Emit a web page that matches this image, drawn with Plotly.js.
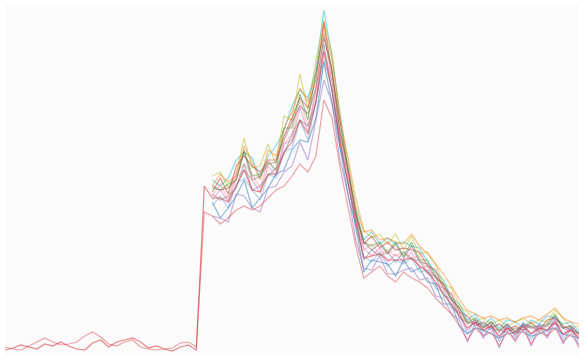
<!DOCTYPE html>
<html>
<head>
<meta charset="utf-8">
<script src="https://cdn.plot.ly/plotly-3.0.1.min.js"></script>
<style>html,body{margin:0;padding:0;background:#fff;}#chart{width:584px;height:360px;}</style>
</head>
<body>
<div id="chart"></div>
<script>
// time steps (shared x axis)
const steps = [0,1,2,3,4,5,6,7,8,9,10,11,12,13,14,15,16,17,18,19,20,21,22,23,24,25,26,27,28,29,30,31,32,33,34,35,36,37,38,39,40,41,42,43,44,45,46,47,48,49,50,51,52,53,54,55,56,57,58,59,60,61,62,63,64,65,66,67,68,69,70,71,72];
const mainStart = 26;

// two long series recorded from the first step
const seriesR1 = [9,7,6,10,14,18,14,11,12,14,20,24,19,12,10,14,16,9,7,6,7,8,13,14,9,
  144,
  140,132,138,146,150,146,150,158,166,170,
  180,192,184,200,256,238,190,150,110,78,
  84,90,80,74,84,78,74,68,58,50,
  42,30,16,28,20,24,10,24,16,26,
  12,24,20,28,14,22,10];
const seriesR2 = [6,8,11,9,7,12,10,14,10,7,6,13,16,9,14,16,18,14,8,10,7,5,9,11,6,
  170,
  158,158,154,170,186,166,164,182,182,204,
  214,236,222,254,304,266,214,174,134,98,
  100,102,96,96,96,98,90,84,74,62,
  52,40,28,34,26,30,20,28,22,30,
  22,28,26,34,22,26,18];

// series recorded from step 26
const seriesCyan = [176,170,178,196,204,198,178,200,210,226,
  250,266,258,286,346,300,244,186,146,116,
  124,112,118,112,114,110,108,94,84,76,
  58,52,36,42,30,38,28,36,34,28,
  36,32,40,38,32,34,24];
const seriesOlive = [180,184,168,182,218,188,190,212,192,240,
  236,282,246,296,336,304,234,200,158,126,
  118,122,112,122,106,120,102,104,92,72,
  68,50,44,34,38,32,36,30,34,38,
  32,36,34,46,38,28,30];
const seriesOrange = [170,182,174,180,210,194,176,206,200,228,
  244,268,254,282,330,298,242,196,150,124,
  126,116,118,114,112,122,110,102,92,82,
  70,56,46,42,38,40,36,38,34,38,
  40,36,42,48,38,34,32];
const seriesRed = [164,178,162,190,200,190,184,196,196,220,
  238,258,248,276,334,282,236,184,144,112,
  120,108,114,106,108,106,104,90,86,68,
  62,44,40,30,34,28,32,26,30,26,
  34,26,36,38,30,26,22];
const seriesGreen = [168,166,172,176,206,180,182,194,186,228,
  228,262,236,284,322,288,226,190,142,114,
  110,114,104,114,100,114,96,96,80,72,
  56,48,34,38,28,34,26,32,24,32,
  30,30,32,42,28,30,22];
const seriesSalmon = [160,172,156,184,192,182,168,196,184,212,
  222,256,230,266,324,276,222,180,140,106,
  112,102,106,100,104,98,100,84,82,66,
  58,42,34,32,30,28,26,28,26,30,
  28,28,30,36,28,28,20];
const seriesBrown = [170,166,168,176,204,176,180,192,194,216,
  234,250,242,268,318,286,224,188,140,114,
  106,112,102,112,98,110,94,92,78,72,
  56,48,32,36,28,34,24,32,24,32,
  28,30,30,40,28,30,22];
const seriesPink = [156,166,154,178,186,176,164,190,180,212,
  216,248,224,266,306,276,216,182,134,108,
  100,108,94,102,94,104,88,90,72,68,
  50,44,26,36,24,32,18,32,20,32,
  22,32,24,38,20,30,16];
const seriesGray = [162,156,160,168,192,166,170,180,188,202,
  222,236,230,254,312,266,222,172,140,96,
  106,100,104,94,104,96,96,82,80,60,
  58,38,34,32,32,26,26,24,28,26,
  30,24,32,32,28,24,24];
const seriesLightBlue = [150,160,148,172,178,166,156,182,178,204,
  208,236,216,254,296,268,208,176,128,100,
  94,104,90,96,92,98,84,86,68,64,
  48,42,22,38,20,32,14,32,18,34,
  16,32,20,38,16,30,12];
const seriesBlue = [154,138,148,160,176,148,158,168,182,186,
  206,216,214,238,294,254,210,162,130,84,
  96,94,92,80,96,84,88,74,72,52,
  52,30,22,28,26,22,18,22,24,24,
  20,22,26,28,22,20,18];
const seriesPurple = [140,138,134,162,160,148,144,168,170,184,
  190,214,196,236,276,254,196,164,116,88,
  86,100,82,82,86,88,76,78,60,58,
  42,36,14,34,18,30,8,30,14,32,
  10,30,18,34,12,28,8];

const fullSeries = [
  {y: seriesR1, color: '#e05a63'},
  {y: seriesR2, color: '#d62728'}
];
const mainSeries = [
  {y: seriesCyan, color: '#17becf'},
  {y: seriesOlive, color: '#bcbd22'},
  {y: seriesOrange, color: '#ff7f0e'},
  {y: seriesRed, color: '#d62728'},
  {y: seriesGreen, color: '#2ca02c'},
  {y: seriesSalmon, color: '#ff9896'},
  {y: seriesBrown, color: '#8c564b'},
  {y: seriesPink, color: '#e377c2'},
  {y: seriesGray, color: '#7f7f7f'},
  {y: seriesLightBlue, color: '#6fa8dc'},
  {y: seriesBlue, color: '#1f77b4'},
  {y: seriesPurple, color: '#9467bd'}
];

const traces = [];
const mainX = steps.slice(mainStart);
mainSeries.forEach(s => traces.push({
  x: mainX, y: s.y, type: 'scatter', mode: 'lines',
  line: {color: s.color, width: 1.2}, opacity: 0.5, hoverinfo: 'skip'
}));
fullSeries.forEach(s => traces.push({
  x: steps, y: s.y, type: 'scatter', mode: 'lines',
  line: {color: s.color, width: 1.2}, opacity: 0.55, hoverinfo: 'skip'
}));

const axisOff = {showgrid: false, zeroline: false, showticklabels: false, showline: false, ticks: ''};
const layout = {
  width: 584, height: 360,
  margin: {l: 5, r: 5, t: 4, b: 4},
  paper_bgcolor: '#ffffff',
  plot_bgcolor: '#fbfbfc',
  showlegend: false,
  xaxis: Object.assign({range: [0, 72]}, axisOff),
  yaxis: Object.assign({range: [0, 352]}, axisOff)
};
Plotly.newPlot('chart', traces, layout, {displayModeBar: false, staticPlot: true});
</script>
</body>
</html>
